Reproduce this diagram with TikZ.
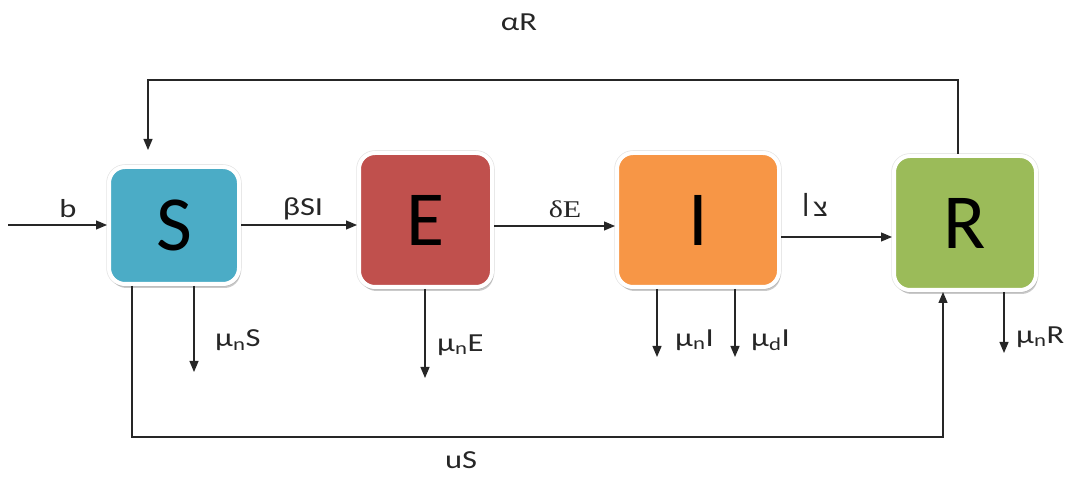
\documentclass[tikz,border=0pt]{standalone}
\usepackage{fontspec}
\setmainfont{Carlito}
\newfontfamily\ratefontserif{Liberation Serif}
\newfontfamily\hebfont{Liberation Sans}
\usetikzlibrary{arrows.meta,shadows}

\definecolor{cS}{HTML}{4BACC6}
\definecolor{cE}{HTML}{C0504D}
\definecolor{cI}{HTML}{F79646}
\definecolor{cR}{HTML}{9BBB59}

% labels are set a little wider than the font's own proportions
\newcommand{\widelabel}[1]{\scalebox{1.25}[1]{#1}}

\begin{document}
\begin{tikzpicture}[x=1pt,y=1pt,
  compartment/.style={draw=white, line width=4pt, rounded corners=16pt,
    font=\fontsize{78}{80}\selectfont, text=black,
    preaction={draw=black!10, line width=5.5pt},
    drop shadow={shadow xshift=1.5pt, shadow yshift=-4pt, opacity=0.35, fill=black!60}},
  flow/.style={line width=1.2pt, draw=black!85, -{Triangle[length=11pt,width=9pt]}},
  rate/.style={font=\fontsize{26}{28}\selectfont, text=black!85, inner sep=0pt},
]
\useasboundingbox (0,0) rectangle (1067,479);

% compartments
\node[compartment, fill=cS, minimum width=130pt, minimum height=117pt] (S) at (174,253.5) {S};
\node[compartment, fill=cE, minimum width=133pt, minimum height=134pt] (E) at (425.5,259) {E};
\node[compartment, fill=cI, minimum width=162pt, minimum height=134pt] (I) at (698,259) {I};
\node[compartment, fill=cR, minimum width=142pt, minimum height=134pt] (R) at (965,256) {R};

% helper levels
\coordinate (in) at (8,254);
\coordinate (lvlA) at (0,254);
\coordinate (lvlB) at (0,253);
\coordinate (lvlC) at (0,242);
\coordinate (topline) at (520,399);
\coordinate (botline) at (520,42);
\coordinate (dS) at (194,107);
\coordinate (dE) at (425,101);
\coordinate (dIn) at (657,122);
\coordinate (dId) at (735,122);
\coordinate (dR) at (1004,126);

% main flows
\draw[flow] (in) -- (in -| S.west);
\draw[flow] (S.east |- lvlA) -- (E.west |- lvlA);
\draw[flow] (E.east |- lvlB) -- (I.west |- lvlB);
\draw[flow] (I.east |- lvlC) -- (R.west |- lvlC);

% loss of immunity and direct vaccination
\draw[flow] ([xshift=-7pt]R.north) |- (topline) -| ([xshift=-26pt,yshift=15pt]S.north);
\draw[flow] ([xshift=-42pt]S.south) |- (botline) -| ([xshift=-22pt]R.south);

% deaths
\draw[flow] (S.south -| dS) -- (dS);
\draw[flow] (E.south -| dE) -- (dE);
\draw[flow] (I.south -| dIn) -- (dIn);
\draw[flow] (I.south -| dId) -- (dId);
\draw[flow] (R.south -| dR) -- (dR);

% rate labels
\node[rate] (lb) at (68,270) {\widelabel{b}};
\node[rate] (lbeta) at (303,270) {\widelabel{βSI}};
\node[rate, font=\ratefontserif\fontsize{24}{26}\selectfont] (ldelta) at (565,270) {\widelabel{δE}};
\node[rate, font=\hebfont\fontsize{24}{26}\selectfont] (lgamma) at (815,274) {\scalebox{1.1}[1.4]{I}\,\scalebox{1.1}[1]{צ}};
\node[rate] (lalpha) at (519,457) {\widelabel{αR}};
\node[rate] (lu) at (461,19) {\widelabel{uS}};
\node[rate, anchor=west] (lmS) at (215,139) {\widelabel{μ\textsubscript{n}S}};
\node[rate, anchor=west] (lmE) at (437,134) {\widelabel{μ\textsubscript{n}E}};
\node[rate, anchor=west] (lmIn) at (675,139) {\widelabel{μ\textsubscript{n}I}};
\node[rate, anchor=west] (lmId) at (751,139) {\widelabel{μ\textsubscript{d}I}};
\node[rate, anchor=west] (lmR) at (1016,142) {\widelabel{μ\textsubscript{n}R}};
\end{tikzpicture}
\end{document}
